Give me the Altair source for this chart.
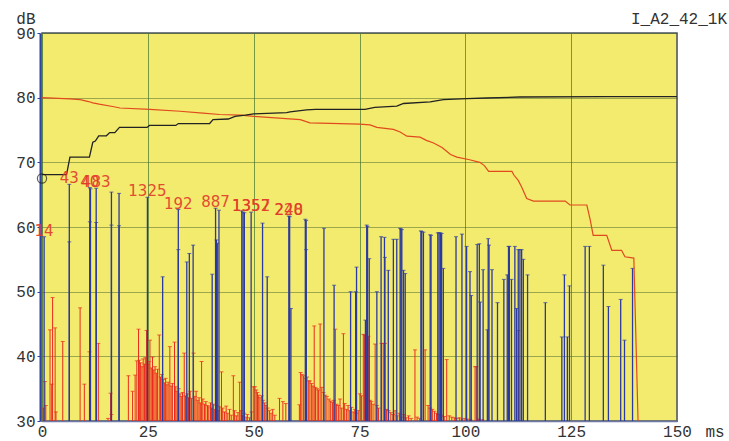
import altair as alt
import pandas as pd

# ---- impulse response data -------------------------------------------------
# direct / specular reflections (blue)
blue_ms = [0.5, 6.45, 6.45, 11.3, 11.3, 11.45, 12.8, 12.8, 16.4, 16.4, 18.2, 18.2,
           24.9, 28.5, 32.2, 32.2, 34.2, 34.8, 35.7, 40.2, 41.0, 41.2, 41.4, 41.8,
           47.2, 47.5, 47.8, 49.4, 52.1, 53.2, 58.3, 58.5, 58.8, 62.2, 62.4, 62.4,
           66.6, 69.0, 72.9, 74.1, 74.3, 76.4, 76.7, 76.9, 77.3, 79.1, 80.1, 80.9,
           81.0, 81.8, 83.0, 83.8, 84.6, 84.8, 85.0, 85.4, 85.8, 89.5, 89.7, 90.1,
           91.7, 91.9, 93.5, 93.8, 94.1, 94.4, 94.8, 97.8, 99.2, 100.3, 101.1, 101.4,
           102.8, 103.3, 103.5, 104.2, 105.2, 105.4, 105.6, 106.3, 107.6, 109.1, 109.9,
           110.2, 110.4, 110.9, 111.7, 112.1, 112.5, 112.9, 113.3, 113.7, 114.7, 118.9,
           122.8, 123.4, 124.1, 124.6, 128.3, 129.3, 132.6, 133.8, 136.7, 137.6, 139.5]
blue_db = [58.5, 66.6, 57.7, 66.1, 60.8, 65.9, 66.0, 60.7, 65.4, 60.3, 65.2, 60.2,
           64.6, 52.3, 62.7, 56.5, 54.6, 55.9, 57.2, 52.7, 62.9, 58.0, 57.5, 62.6,
           62.5, 62.3, 62.2, 62.3, 60.6, 52.3, 61.7, 61.6, 47.4, 61.2, 61.0, 56.5,
           59.8, 51.0, 50.0, 50.0, 53.8, 45.6, 60.3, 60.1, 55.1, 50.0, 58.5, 58.4,
           55.3, 53.3, 58.1, 58.1, 59.8, 59.7, 59.6, 53.3, 52.8, 59.4, 59.3, 59.2,
           58.8, 58.7, 59.1, 59.1, 59.1, 59.0, 53.6, 58.5, 58.9, 57.0, 53.1, 49.4,
           57.3, 57.4, 48.4, 53.4, 44.1, 58.2, 57.2, 53.4, 48.3, 51.9, 52.6,
           57.0, 57.0, 51.9, 57.0, 47.4, 56.5, 56.5, 56.5, 55.0, 52.6, 48.3,
           43.0, 52.6, 43.0, 50.9, 57.0, 57.0, 54.1, 47.7, 48.8, 42.5, 53.6]

# diffuse / scattered energy (red)
red_ms = [0.3, 0.7, 0.9, 1.9, 2.3, 2.5, 3.1, 3.3, 4.9, 9.0, 10.0, 11.2, 13.3, 15.6, 16.2, 16.4,
          20.4, 21.4, 22.0, 22.4, 22.8, 23.0, 23.3, 23.6, 23.9, 24.2, 24.4, 24.7, 25.0, 25.3,
          25.5, 25.8, 26.1, 26.4, 26.7, 27.0, 27.3, 27.7, 28.0, 28.3, 28.6, 28.9, 29.2, 29.5,
          29.8, 30.2, 30.5, 30.8, 31.3, 31.6, 31.9, 32.3, 32.6, 32.9, 33.2, 33.6, 33.9, 34.3,
          34.6, 35.0, 35.3, 35.8, 36.1, 36.4, 36.8, 37.1, 37.4, 37.7, 38.0, 38.4, 38.7, 39.1,
          39.4, 39.8, 40.1, 40.5, 40.8, 41.2, 41.6, 42.0, 42.4, 42.7, 43.1, 43.5, 43.9, 44.3,
          44.7, 45.2, 45.5, 45.9, 46.3, 46.7, 47.0, 47.4, 47.8, 48.2, 48.5, 49.0, 49.5, 49.9,
          50.3, 50.6, 50.9, 51.2, 51.5, 51.9, 52.2, 52.6, 52.9, 53.3, 53.7, 54.1, 54.5, 55.0,
          56.1, 56.9, 57.6, 60.8, 61.1, 61.4, 61.8, 62.2, 62.6, 63.0, 63.3, 63.7, 64.0, 64.3,
          64.6, 65.0, 65.3, 65.7, 66.1, 66.5, 66.9, 67.3, 67.8, 68.2, 68.6, 69.0, 69.3, 69.6,
          70.0, 70.4, 70.8, 71.2, 71.5, 71.9, 72.3, 72.7, 73.1, 73.5, 73.9, 74.3, 74.7, 75.1,
          75.5, 75.9, 76.2, 76.5, 77.1, 77.5, 77.8, 78.2, 78.7, 79.1, 79.5, 80.2, 80.6, 81.0,
          81.4, 81.9, 82.4, 82.9, 83.4, 83.9, 84.4, 84.9, 85.5, 86.0, 86.6, 87.2, 88.1, 88.6,
          89.2, 90.5, 91.2, 91.7, 92.2, 92.7, 93.2, 93.8, 94.4, 95.0, 95.6, 96.2, 96.8, 97.4,
          98.0, 98.6, 99.2, 99.9, 100.5, 101.2, 102.3, 102.6, 103.2, 104.0, 112.5]
red_db = [32.0, 36.1, 32.4, 44.1, 35.7, 49.1, 44.4, 31.4, 42.3, 47.5, 35.7, 40.7, 42.0, 30.4, 34.3, 31.0,
          37.0, 34.6, 37.1, 39.3, 44.2, 39.4, 39.0, 38.4, 39.6, 38.8, 39.8, 44.0, 38.7, 39.2,
          42.5, 38.2, 39.9, 37.9, 38.4, 37.4, 38.0, 43.3, 36.8, 37.2, 36.4, 35.9, 36.6, 35.6,
          36.0, 41.5, 35.4, 35.8, 42.2, 35.3, 34.6, 35.0, 34.2, 33.8, 34.4, 40.5, 33.9, 34.2,
          33.6, 34.6, 33.5, 40.5, 33.8, 34.6, 33.2, 33.6, 32.8, 39.2, 33.4, 32.6, 33.0, 32.4,
          32.2, 32.8, 32.0, 32.6, 31.8, 32.4, 31.6, 32.2, 37.6, 32.0, 31.4, 32.3, 31.2, 31.8,
          30.9, 37.0, 31.6, 30.8, 31.3, 36.0, 31.6, 30.8, 31.2, 30.6, 31.0, 30.5, 31.4, 35.3,
          35.3, 34.8, 34.4, 34.0, 33.6, 33.9, 33.2, 32.8, 32.4, 32.0, 31.6, 31.2, 31.8, 30.9,
          33.5, 33.0, 32.7, 32.5, 37.5, 37.2, 37.0, 36.6, 36.8, 36.2, 36.2, 35.8, 35.4, 44.7,
          35.2, 35.0, 34.8, 45.0, 35.2, 34.4, 34.0, 33.8, 33.4, 33.1, 32.9, 33.2, 44.2, 32.6,
          32.4, 33.4, 32.0, 43.5, 32.7, 31.8, 32.4, 31.6, 32.1, 31.4, 31.8, 31.2, 31.6, 34.2,
          33.9, 43.4, 43.3, 33.5, 43.1, 33.2, 33.0, 32.6, 41.9, 32.4, 32.0, 42.0, 42.0, 42.0,
          31.8, 31.6, 31.3, 31.0, 31.6, 30.8, 31.2, 30.6, 31.0, 30.5, 30.8, 30.4, 41.0, 30.6,
          30.4, 41.0, 32.4, 32.0, 31.8, 31.5, 31.2, 31.0, 30.9, 30.7, 39.5, 30.8, 30.6, 30.5,
          30.4, 30.5, 30.3, 30.4, 30.3, 30.2, 38.4, 38.4, 30.3, 30.2, 44.0]

# cumulative (black) and backward-integrated decay (red) curves
black_ms = [0, 5.8, 6.6, 11.2, 12.0, 12.6, 13.4, 15.2, 16.0, 17.2, 18.3, 24.8, 25.4, 31.6,
            32.2, 39.6, 40.4, 44.0, 45.6, 48.0, 50.0, 57.8, 58.6, 62.5, 64.6, 76.3, 78.6,
            83.8, 85.4, 91.7, 94.8, 100.3, 105.0, 112.9, 133.4, 150]
black_db = [68.1, 68.1, 70.8, 70.8, 73.1, 73.3, 74.1, 74.1, 74.6, 74.6, 75.4, 75.4, 75.7, 75.7,
            76.0, 76.0, 76.6, 76.7, 77.1, 77.3, 77.5, 77.7, 77.8, 78.1, 78.2, 78.2, 78.5,
            78.7, 79.1, 79.35, 79.7, 79.85, 79.95, 80.1, 80.15, 80.15]

decay_ms = [0, 6.6, 9.0, 11.0, 12.0, 13.5, 17.0, 18.4, 25.5, 32.6, 38.0, 42.0, 47.0, 50.0,
            61.0, 63.3, 75.0, 77.5, 79.1, 83.0, 84.6, 86.2, 89.3, 90.8, 92.5, 94.5, 96.5,
            98.0, 101.0, 103.4, 104.5, 105.5, 111.0, 111.5, 112.5, 113.3, 114.5, 116.1,
            123.6, 124.7, 128.7, 129.5, 130.2, 133.4, 134.6, 136.9, 137.7, 139.8, 140.8]
decay_db = [80.0, 79.8, 79.7, 79.4, 79.2, 79.0, 78.6, 78.4, 78.2, 77.9, 77.6, 77.4, 77.3, 77.1,
            76.6, 76.1, 75.9, 75.8, 75.4, 75.1, 74.7, 74.05, 73.9, 73.4, 73.0, 72.3, 71.2,
            70.8, 70.4, 70.0, 69.5, 68.6, 68.6, 68.0, 67.2, 66.2, 64.4, 64.0,
            64.0, 63.4, 63.4, 61.1, 58.7, 58.7, 56.4, 56.4, 55.4, 55.2, 30.0]

# start marker of the cumulative curve
marker_ms = [0.0]
marker_db = [67.5]

# reflection path labels
label_text = ["14", "43", "40", "483", "1325", "192", "887", "1352", "1357", "228", "240"]
label_ms = [0.5, 6.45, 11.3, 12.8, 24.9, 32.2, 41.0, 49.4, 49.4, 58.3, 58.3]
label_db = [58.5, 66.6, 66.1, 66.0, 64.6, 62.7, 62.9, 62.3, 62.3, 61.7, 61.7]

x_ticks = [0, 25, 50, 75, 100, 125, 150]
y_ticks = [30, 40, 50, 60, 70, 80, 90]

blue_df = pd.DataFrame({"ms": blue_ms, "db": blue_db})
red_df = pd.DataFrame({"ms": red_ms, "db": red_db})
black_df = pd.DataFrame({"ms": black_ms, "db": black_db, "order": range(len(black_ms))})
decay_df = pd.DataFrame({"ms": decay_ms, "db": decay_db, "order": range(len(decay_ms))})
marker_df = pd.DataFrame({"ms": marker_ms, "db": marker_db})
label_df = pd.DataFrame({"ms": label_ms, "db": label_db, "txt": label_text})

MONO = "Liberation Mono"
TXT = "#333333"

xs = alt.Scale(domain=[0, 150], nice=False, zero=False)
ys = alt.Scale(domain=[30, 90], nice=False, zero=False)

x_axis = alt.Axis(values=x_ticks, title="ms", labelFont=MONO, labelFontSize=16, labelColor=TXT,
                  ticks=False, labelPadding=2, domainColor="#6e7aa6", domainWidth=1.5,
                  grid=True, gridColor="#5f8a3a", gridWidth=1, gridOpacity=0.85,
                  titleFont=MONO, titleFontSize=16, titleFontWeight="normal", titleColor=TXT,
                  titleX=663, titleY=15, titleAlign="left", titleBaseline="alphabetic",
                  labelFlush=False)
y_axis = alt.Axis(values=y_ticks, title="dB", labelFont=MONO, labelFontSize=16, labelColor=TXT,
                  tickSize=3, tickColor="#3042a0", labelPadding=2, offset=2,
                  domainColor="#3042a0", domainWidth=2,
                  grid=True, gridColor="#44622c", gridWidth=1, gridDash=[1, 1],
                  titleFont=MONO, titleFontSize=16, titleFontWeight="normal", titleColor=TXT,
                  titleAngle=0, titleX=-5, titleY=-10, titleAlign="right",
                  titleBaseline="alphabetic", labelFlush=False)

base_x = alt.X("ms:Q", scale=xs, axis=x_axis)
base_y = alt.Y("db:Q", scale=ys, axis=y_axis)

red_stems = alt.Chart(red_df).mark_rule(color="#ea2a1e", strokeWidth=1).encode(
    x=base_x, y=base_y, y2=alt.datum(30))
red_caps = alt.Chart(red_df).mark_tick(color="#ea2a1e", orient="horizontal", size=4,
                                        thickness=1).encode(x="ms:Q", y="db:Q")

blue_stems = alt.Chart(blue_df).mark_rule(color="#2b3a9e", strokeWidth=1.3).encode(
    x="ms:Q", y="db:Q", y2=alt.datum(30))
blue_caps = alt.Chart(blue_df).mark_tick(color="#2b3a9e", orient="horizontal", size=4,
                                          thickness=1).encode(x="ms:Q", y="db:Q")

black_line = alt.Chart(black_df).mark_line(color="#222222", strokeWidth=1.3).encode(
    x="ms:Q", y="db:Q", order="order:Q")
decay_line = alt.Chart(decay_df).mark_line(color="#e04a1e", strokeWidth=1.2).encode(
    x="ms:Q", y="db:Q", order="order:Q")

marker = alt.Chart(marker_df).mark_point(shape="circle", filled=False, size=85,
                                         color="#222222", strokeWidth=1.2).encode(
    x="ms:Q", y="db:Q")

labels = alt.Chart(label_df).mark_text(font="DejaVu Sans", fontSize=15, color="#e23a2a",
                                       align="center", baseline="alphabetic", dy=-1,
                                       opacity=0.9).encode(
    x="ms:Q", y="db:Q", text="txt:N")

chart = alt.layer(
    red_stems, red_caps, blue_stems, blue_caps, decay_line, black_line, marker, labels
).properties(
    width=635,
    height=388,
    title=alt.TitleParams("I_A2_42_1K", anchor="end", frame="group", dx=50, dy=22, offset=5,
                          font=MONO, fontSize=16, fontWeight="normal", color=TXT),
    autosize=alt.AutoSizeParams(type="none"),
    padding={"left": 42, "top": 33, "right": 52, "bottom": 20},
    background="white",
).configure_view(
    fill="#f3eb6e", stroke="#4a5262", strokeWidth=1.5
)

chart.save("out.html", embed_options={"renderer": "svg", "actions": False})
